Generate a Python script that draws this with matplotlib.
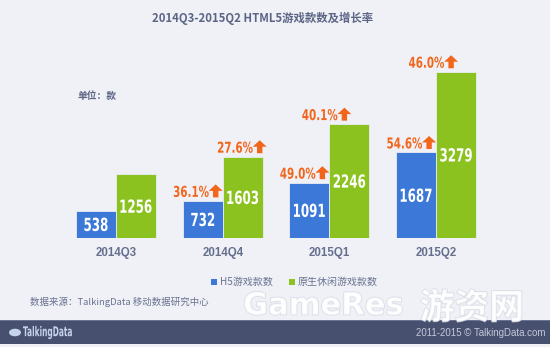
import matplotlib
matplotlib.use("Agg")
import matplotlib.pyplot as plt
from matplotlib.patches import Rectangle, Polygon, PathPatch, Circle
from matplotlib.textpath import TextPath
from matplotlib.font_manager import FontProperties
from matplotlib.transforms import Affine2D, IdentityTransform
import matplotlib.patheffects as pe

plt.rcParams['font.family'] = ['Noto Sans CJK SC', 'DejaVu Sans']

categories = ["2014Q3", "2014Q4", "2015Q1", "2015Q2"]
h5_counts = [538, 732, 1091, 1687]
native_counts = [1256, 1603, 2246, 3279]
h5_growth = [None, "36.1%", "49.0%", "54.6%"]
native_growth = [None, "27.6%", "40.1%", "46.0%"]
series_names = ["H5游戏款数", "原生休闲游戏款数"]

BG = "#eff1f6"
BLUE = "#3b78d8"
GREEN = "#8cc220"
ORANGE = "#f2661c"
TEXT = "#5c6586"
FOOT = "#47506e"

W, H = 550, 347
fig = plt.figure(figsize=(W / 100, H / 100), dpi=100, facecolor=BG)

def fx(px):
    return px / W

def fy(py):
    return 1 - py / H

baseline = 238
px_per_unit = 0.0507
ax = fig.add_axes([0, fy(baseline), 1, baseline / H])
ax.set_facecolor("none")
group_px = 106.7
first_center = 116
ax.set_xlim(-first_center / group_px, (W - first_center) / group_px)
ax.set_ylim(0, baseline / px_per_unit)
ax.axis("off")

bw = 40 / group_px
xs = list(range(len(categories)))
bx = [x - bw / 2 for x in xs]
gx = [x + bw / 2 for x in xs]
ax.bar(bx, h5_counts, width=bw, color=BLUE, edgecolor="#e9edf5", linewidth=0.6)
ax.bar(gx, native_counts, width=bw, color=GREEN, edgecolor="#e9edf5", linewidth=0.6)

BOLD = FontProperties(family="DejaVu Sans", weight="bold")

def cond_text(X, Y, s, size_px, color, ha="center", sx=0.68, z=5):
    """Condensed bold text; X,Y in display pixels (origin bottom-left), Y = vertical glyph center."""
    tp = TextPath((0, 0), s, size=size_px, prop=BOLD)
    ext = tp.get_extents()
    if ha == "center":
        ox = (ext.x0 + ext.x1) / 2
    elif ha == "right":
        ox = ext.x1
    else:
        ox = ext.x0
    oy = (ext.y0 + ext.y1) / 2
    tr = Affine2D().translate(-ox, -oy).scale(sx, 1).translate(X, Y)
    patch = PathPatch(tr.transform_path(tp), color=color, lw=0, transform=IdentityTransform(), zorder=z)
    fig.patches.append(patch)
    return (ext.x1 - ext.x0) * sx

def to_disp(x, y):
    return ax.transData.transform((x, y))

for x, v in zip(bx, h5_counts):
    X, Y = to_disp(x, v / 2)
    cond_text(X, Y, str(v), 18, "white", sx=0.66)
for x, v in zip(gx, native_counts):
    X, Y = to_disp(x, v / 2)
    cond_text(X, Y, str(v), 18, "white", sx=0.66)

def arrow_disp(xl, yc):
    w, hgt = 14, 13
    hw = w / 2
    cx = xl + hw
    sw = 2.7
    head = 6.5
    yb, yt = yc - hgt / 2, yc + hgt / 2
    ym = yt - head
    pts = [(cx - sw, yb), (cx + sw, yb), (cx + sw, ym), (cx + hw, ym), (cx, yt),
           (cx - hw, ym), (cx - sw, ym)]
    fig.patches.append(Polygon(pts, closed=True, color=ORANGE, lw=0, transform=IdentityTransform()))

def growth_label(x_data, top_value, label, right_offset_px):
    X, Y = to_disp(x_data, top_value)
    right = X + right_offset_px
    yc = Y + 9.5
    cond_text(right - 14, yc, label, 15, ORANGE, ha="right", sx=0.69)
    arrow_disp(right - 14, yc + 0.5)

for i, lab in enumerate(h5_growth):
    if lab:
        growth_label(xs[i], h5_counts[i], lab, 0)
native_right_px = [None, 24, 2, 2]
for i, lab in enumerate(native_growth):
    if lab:
        growth_label(gx[i], native_counts[i], lab, native_right_px[i])

for x, c in zip(xs, categories):
    fig.text(fx(first_center + x * group_px), fy(253), c, ha="center", va="center",
             family="Liberation Sans", fontweight="bold", fontsize=8.3, color="#66708e")

fig.text(fx(263), fy(18), "2014Q3-2015Q2 HTML5游戏款数及增长率", ha="center", va="center",
         fontsize=8.2, fontweight="bold", color=TEXT)
fig.text(fx(78), fy(96), "单位：款", ha="left", va="center", fontsize=7,
         fontweight="bold", color=TEXT)

# legend
for sx_, tx, col, name in [(211, 220, BLUE, series_names[0]), (289, 298, GREEN, series_names[1])]:
    fig.patches.append(Rectangle((fx(sx_), fy(285)), fx(6), 6 / H, transform=fig.transFigure,
                                 color=col, lw=0))
    fig.text(fx(tx), fy(282), name, ha="left", va="center", fontsize=7.2, color="#6a7290")

fig.text(fx(30), fy(302), "数据来源：TalkingData 移动数据研究中心", ha="left", va="center",
         fontsize=6.8, color="#6a7290")

# footer
fig.patches.append(Rectangle((0, fy(344)), 1, 24 / H, transform=fig.transFigure,
                             color=FOOT, lw=0))
fig.patches.append(Rectangle((0, fy(321)), 1, 1 / H, transform=fig.transFigure,
                             color="#6a7390", lw=0))
cond_text(23, H - 332.5, "TalkingData", 13.5, "#c6d3ec", ha="left", sx=0.55)
fig.patches.append(Circle((fx(15), fy(332.5)), 6 / W, transform=fig.transFigure,
                          color="#c6d3ec", lw=0))
fig.text(fx(545), fy(333), "2011-2015 © TalkingData.com", ha="right", va="center",
         family="Liberation Sans", fontsize=7, color="#c3c9da")

# watermark
wm_effects = [pe.withStroke(linewidth=1.2, foreground="#d5d9e3")]
fig.text(fx(243), fy(306), "GameRes", ha="left", va="center", family="DejaVu Sans",
         fontweight="bold", fontsize=22, color="white", alpha=0.8, path_effects=wm_effects, zorder=10)
fig.text(fx(472), fy(308), "游资网", ha="center", va="center", family="Noto Sans CJK SC",
         fontweight="bold", fontsize=25, color="white", alpha=0.8, path_effects=wm_effects, zorder=10)

fig.savefig("out.png", dpi=100, facecolor=BG)
